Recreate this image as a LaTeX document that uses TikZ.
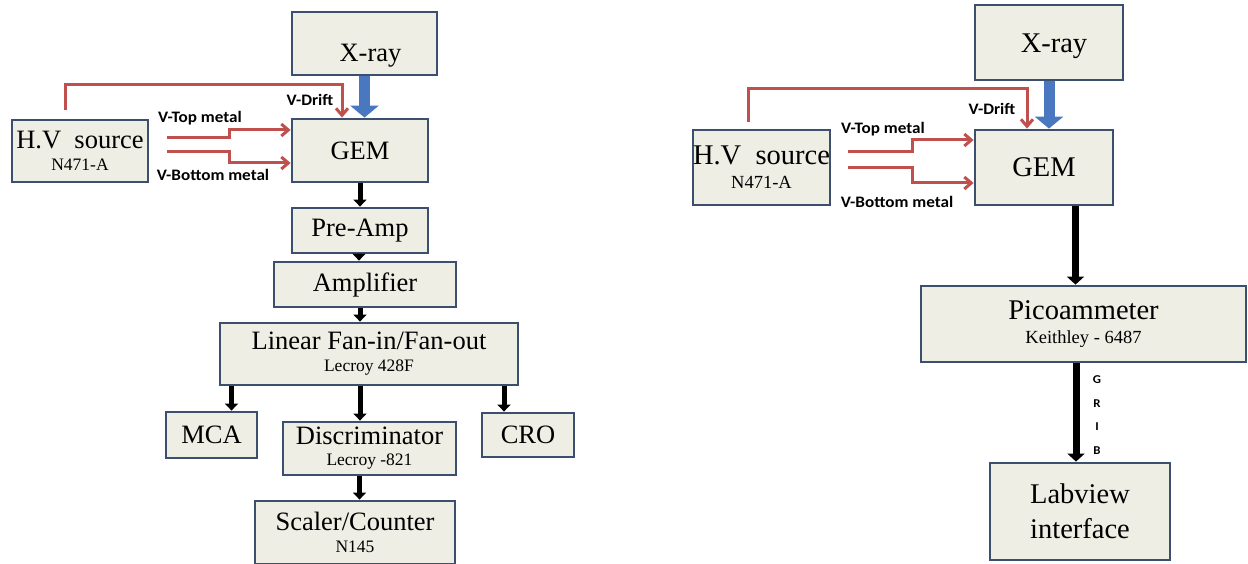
\documentclass[tikz,border=0pt]{standalone}
\usepackage{fontspec}
\setmainfont{Liberation Serif}
\newfontfamily\labfont{Carlito}[FakeStretch=1.07]
\usetikzlibrary{arrows.meta,calc}
\definecolor{boxfill}{HTML}{EEEEE4}
\definecolor{boxline}{HTML}{3C4F6E}
\definecolor{hvred}{HTML}{C0504D}
\definecolor{xblue}{HTML}{4A78C0}
\newcommand\mainL{\fontsize{26.5}{28}\selectfont}
\newcommand\smallL{\fontsize{17.5}{19}\selectfont}
\newcommand\mainR{\fontsize{28.5}{30}\selectfont}
\newcommand\smallR{\fontsize{18.5}{20}\selectfont}
\newcommand\mkbox[7]{\node[blockbox, font=#6, minimum width={(#4-#2)*1pt}, minimum height={(#5-#3)*1pt}] (#1) at ({(#2+#4)/2},{(#3+#5)/2}) {#7};}
\begin{document}
\begin{tikzpicture}[x=1pt,y=-1pt,
 blockbox/.style={draw=boxline, line width=2.8pt, fill=boxfill, inner sep=0pt, align=center},
 blk/.style={line width=5pt, black, -{Triangle[width=13pt,length=7pt]}},
 blkR/.style={line width=7pt, black, -{Triangle[width=17pt,length=8pt]}},
 bluearr/.style={line width=11pt, xblue, -{Triangle[width=28pt,length=12pt]}},
 redarr/.style={line width=3pt, hvred, -{Straight Barb[width=12pt,length=7pt]}},
 lab/.style={font=\labfont\bfseries\fontsize{16}{18}\selectfont, inner sep=0pt},
]
\useasboundingbox[fill=white] (0,0) rectangle (1248,564);
% ---------------- left diagram ----------------
\mkbox{xrL}{292}{12}{437}{75}{\mainL}{\raisebox{-18pt}[0pt][0pt]{\hspace*{12pt}X-ray}}
\mkbox{hvL}{12}{120}{148}{182}{\mainL}{H.V\ \ source\\[-6pt]\smallL N471-A}
\mkbox{gemL}{292}{119}{428}{182}{\mainL}{GEM}
\mkbox{preL}{292}{208}{428}{253}{\mainL}{Pre-Amp}
\mkbox{ampL}{274}{262}{456}{307}{\mainL}{Amplifier}
\mkbox{linL}{220}{323}{518}{385}{\mainL}{Linear Fan-in/Fan-out\\[-6pt]\smallL Lecroy 428F}
\mkbox{mcaL}{166}{412}{257}{458}{\mainL}{MCA}
\mkbox{discL}{283}{422}{456}{475}{\mainL}{Discriminator\\[-7pt]\smallL Lecroy -821}
\mkbox{croL}{482}{413}{574}{457}{\mainL}{CRO}
\mkbox{scL}{255}{501}{455}{564}{\mainL}{Scaler/Counter\\[-6pt]\smallL N145}

\draw[bluearr] (xrL.south) -- (xrL.south |- gemL.north);
\draw[blk] (gemL.south) -- (preL.north);
\draw[blk] ([xshift=-1pt]preL.south) -- ([xshift=-1pt]preL.south |- ampL.north);
\draw[blk] ([xshift=-9pt]linL.north |- ampL.south) -- ([xshift=-9pt]linL.north);
\draw[blk] ([xshift=20pt]mcaL.north |- linL.south) -- ([xshift=20pt]mcaL.north);
\draw[blk] ([xshift=-9pt]linL.south) -- ([xshift=-9pt]linL.south |- discL.north);
\draw[blk] ([xshift=-24pt]croL.north |- linL.south) -- ([xshift=-24pt]croL.north);
\draw[blk] ([xshift=-10pt]discL.south) -- ([xshift=-10pt]discL.south |- scL.north);

\coordinate (dL) at (65,110);
\coordinate (dLtop) at (342,85);
\draw[redarr] (dL) |- (dLtop) -- (dLtop |- gemL.north);
\coordinate (tL) at (167,138);
\draw[redarr] (tL) -- ++(62,0) |- ([yshift=20.5pt]gemL.west);
\coordinate (bL) at (167,152);
\draw[redarr] (bL) -- ++(62,0) |- ([yshift=-12.5pt]gemL.west);
\node[lab] (ldrift) at (310,100) {V-Drift};
\node[lab] (ltop) at (200,118) {V-Top metal};
\node[lab] (lbot) at (213,175) {V-Bottom metal};

% ---------------- right diagram ----------------
\mkbox{xrR}{975}{5}{1123}{80}{\mainR}{\raisebox{-10.5pt}[0pt][0pt]{\hspace*{10pt}X-ray}}
\mkbox{hvR}{693}{130}{830}{205}{\mainR}{H.V\ \ source\\[-6pt]\smallR N471-A}
\mkbox{gemR}{975}{130}{1113}{205}{\mainR}{GEM}
\mkbox{picoR}{921}{286}{1246}{362}{\mainR}{Picoammeter\\[-6pt]\smallR Keithley - 6487}
\mkbox{labR}{990}{463}{1170}{560}{\mainR}{Labview\\[5pt]interface}

\draw[bluearr] (xrR.south) -- (xrR.south |- gemR.north);
\draw[blkR] ([xshift=-8pt]picoR.north |- gemR.south) -- ([xshift=-8pt]picoR.north);
\draw[blkR] ([xshift=-4pt]labR.north |- picoR.south) -- ([xshift=-4pt]labR.north);
\node[font=\labfont\bfseries\fontsize{12}{23.5}\selectfont, align=center, inner sep=0pt] (grib) at (1097,415) {G\\R\\I\\B};

\coordinate (dR) at (748,122);
\coordinate (dRtop) at (1027,89);
\draw[redarr] (dR) |- (dRtop) -- (dRtop |- gemR.north);
\coordinate (tR) at (848,152);
\draw[redarr] (tR) -- ++(64,0) |- ([yshift=27.5pt]gemR.west);
\coordinate (bR) at (848,168);
\draw[redarr] (bR) -- ++(64,0) |- ([yshift=-15.5pt]gemR.west);
\node[lab] (rdrift) at (992,109) {V-Drift};
\node[lab] (rtop) at (883,129) {V-Top metal};
\node[lab] (rbot) at (897,202) {V-Bottom metal};
\end{tikzpicture}
\end{document}
